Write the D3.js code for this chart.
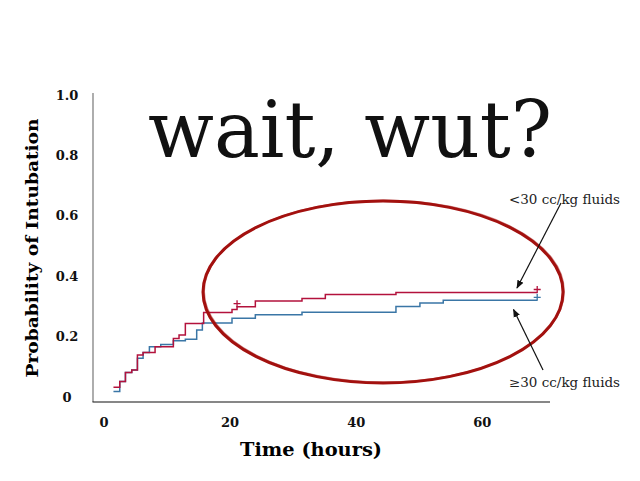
<!DOCTYPE html>
<html>
<head>
<meta charset="utf-8">
<script src="https://cdn.jsdelivr.net/npm/d3@7"></script>
<style>
  body { margin: 0; background: #fff; }
  svg { display: block; }
  .tick-label { font-family: "DejaVu Serif", serif; font-weight: bold; font-size: 13px; fill: #111; }
</style>
</head>
<body>
<div id="chart"></div>
<script>
// data: Kaplan-Meier steps
var timeLow  = [1.5, 2.5, 3.4, 4.4, 5.3, 6.2, 8.1, 11.0, 11.9, 12.9, 15.8, 20.3, 21.1, 24.0, 31.4, 35.1, 46.3, 68.7];
var probLow  = [0.032, 0.051, 0.081, 0.089, 0.139, 0.147, 0.166, 0.194, 0.205, 0.243, 0.280, 0.290, 0.299, 0.318, 0.326, 0.339, 0.346, 0.346];
var timeHigh = [1.5, 2.5, 3.4, 4.4, 5.3, 6.2, 7.2, 9.0, 11.0, 12.9, 14.7, 15.6, 20.3, 24.0, 31.4, 46.3, 50.1, 53.8, 68.7];
var probHigh = [0.018, 0.051, 0.081, 0.089, 0.128, 0.147, 0.166, 0.174, 0.186, 0.191, 0.222, 0.245, 0.261, 0.272, 0.281, 0.300, 0.311, 0.320, 0.320];
var censorLow  = [21.1, 68.7];
var censorHigh = [68.7];

var xTicks = [0, 20, 40, 60];
var yTicks = [0, 0.2, 0.4, 0.6, 0.8, 1.0];
var yTickLabels = ['0', '0.2', '0.4', '0.6', '0.8', '1.0'];

var width = 640, height = 481;

var svg = d3.select('#chart')
    .append('svg')
    .attr('width', width)
    .attr('height', height);

var x = d3.scaleLinear()
    .domain([0, 70])
    .range([104, 545.4]);

var y = d3.scaleLinear()
    .domain([0, 1])
    .range([397, 95]);

// title
svg.append('text')
    .attr('x', 350)
    .attr('y', 157)
    .attr('text-anchor', 'middle')
    .attr('textLength', 404)
    .attr('lengthAdjust', 'spacingAndGlyphs')
    .style('font-family', '"DejaVu Serif", serif')
    .style('font-size', '78px')
    .style('fill', '#111')
    .text('wait, wut?');

// axes lines
svg.append('line')
    .attr('x1', 93).attr('x2', 93)
    .attr('y1', 93).attr('y2', 402)
    .attr('stroke', '#777').attr('stroke-width', 1.2);

svg.append('line')
    .attr('x1', 92.5).attr('x2', 550)
    .attr('y1', 402).attr('y2', 402)
    .attr('stroke', '#111').attr('stroke-width', 1.2);

svg.selectAll('text.ylab')
    .data(yTicks)
    .enter()
    .append('text')
    .attr('class', 'tick-label ylab')
    .attr('x', 67)
    .attr('y', function(d) { return y(d) })
    .attr('dy', '0.35em')
    .attr('text-anchor', 'middle')
    .text(function(d, i) { return yTickLabels[i] });

svg.selectAll('text.xlab')
    .data(xTicks)
    .enter()
    .append('text')
    .attr('class', 'tick-label xlab')
    .attr('x', function(d) { return x(d) })
    .attr('y', 422)
    .attr('dy', '0.35em')
    .attr('text-anchor', 'middle')
    .text(function(d) { return d });

svg.append('text')
    .attr('transform', 'translate(38,248) rotate(-90)')
    .attr('text-anchor', 'middle')
    .attr('textLength', 259)
    .attr('lengthAdjust', 'spacingAndGlyphs')
    .style('font-family', '"DejaVu Serif", serif')
    .style('font-weight', 'bold')
    .style('font-size', '16px')
    .text('Probability of Intubation');

svg.append('text')
    .attr('x', 311)
    .attr('y', 456)
    .attr('text-anchor', 'middle')
    .attr('textLength', 142)
    .attr('lengthAdjust', 'spacingAndGlyphs')
    .style('font-family', '"DejaVu Serif", serif')
    .style('font-weight', 'bold')
    .style('font-size', '18px')
    .text('Time (hours)');

// curves
var line = d3.line()
    .x(function(d) { return x(d[0]) })
    .y(function(d) { return y(d[1]) })
    .curve(d3.curveStepAfter);

var series = [
    {t: timeHigh, p: probHigh, c: censorHigh, color: '#3a76a6'},
    {t: timeLow, p: probLow, c: censorLow, color: '#b3123c'}
];

series.forEach(function(s) {
    var pts = d3.zip(s.t, s.p);
    svg.append('path')
        .attr('d', line(pts))
        .attr('fill', 'none')
        .attr('stroke', s.color)
        .attr('stroke-width', 1.5);

    var step = d3.scaleThreshold().domain(s.t.slice(1)).range(s.p);
    s.c.forEach(function(t) {
        var cx = x(t), cy = y(step(t)) - 3;
        svg.append('path')
            .attr('d', 'M' + (cx - 3.5) + ',' + cy + 'h7M' + cx + ',' + (cy - 3.5) + 'v7')
            .attr('stroke', s.color)
            .attr('stroke-width', 1.3);
    });
});

// hand-drawn ellipse
[[0, 0, 3, 1], [1.2, -0.8, 1.5, 0.5]].forEach(function(o) {
    svg.append('ellipse')
        .attr('cx', 383 + o[0])
        .attr('cy', 292 + o[1])
        .attr('rx', 180)
        .attr('ry', 91)
        .attr('fill', 'none')
        .attr('stroke', '#a3110f')
        .attr('stroke-width', o[2])
        .attr('opacity', o[3]);
});

// annotations
svg.append('defs').append('marker')
    .attr('id', 'arrow')
    .attr('viewBox', '0 0 10 10')
    .attr('refX', 9).attr('refY', 5)
    .attr('markerWidth', 7).attr('markerHeight', 7)
    .attr('orient', 'auto')
    .append('path')
    .attr('d', 'M0,1L10,5L0,9z')
    .attr('fill', '#111');

svg.append('line')
    .attr('x1', 561).attr('y1', 203)
    .attr('x2', 517).attr('y2', 288)
    .attr('stroke', '#111').attr('stroke-width', 1.2)
    .attr('marker-end', 'url(#arrow)');

svg.append('line')
    .attr('x1', 543).attr('y1', 370)
    .attr('x2', 513.5).attr('y2', 309.5)
    .attr('stroke', '#111').attr('stroke-width', 1.2)
    .attr('marker-end', 'url(#arrow)');

[['<30 cc/kg fluids', 200], ['\u226530 cc/kg fluids', 383]].forEach(function(a) {
    svg.append('text')
        .attr('x', 509)
        .attr('y', a[1])
        .attr('dy', '0.35em')
        .attr('textLength', 111)
        .attr('lengthAdjust', 'spacingAndGlyphs')
        .style('font-family', '"DejaVu Serif", serif')
        .style('font-size', '12.5px')
        .style('font-weight', '300')
        .style('fill', '#222')
        .text(a[0]);
});
</script>
</body>
</html>
